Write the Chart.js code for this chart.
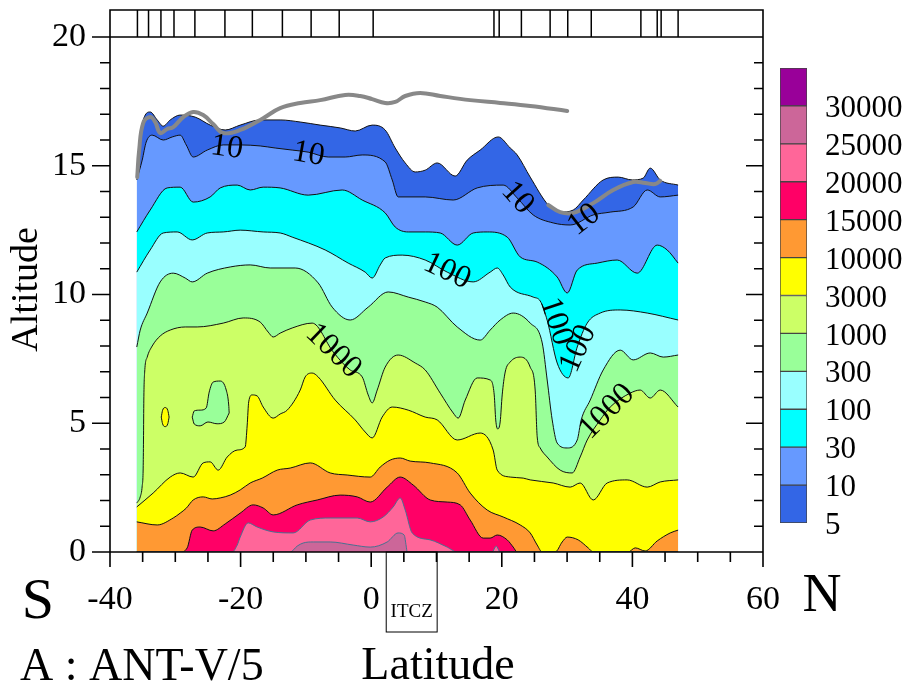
<!DOCTYPE html>
<html>
<head>
<meta charset="utf-8">
<title>ANT-V/5</title>
<script src="https://cdn.jsdelivr.net/npm/chart.js@4.4.1/dist/chart.umd.min.js"></script>
<style>
  html, body { margin: 0; padding: 0; background: #fff; }
  #wrap { position: relative; width: 914px; height: 690px; }
  #main { position: absolute; left: 0; top: 0; }
  #scale { position: absolute; left: 780px; top: 50px; }
</style>
</head>
<body>
<div id="wrap">
  <canvas id="main" width="914" height="690"></canvas>
  <canvas id="scale" width="134" height="500"></canvas>
</div>
<script>
// contour lines as [latitude, altitude km]
const cont5 = [[-35.9,14.56],[-35.53,15.61],[-35.07,16.58],[-34.61,16.97],[-33.85,17.09],[-32.77,16.78],[-31.85,16.54],[-30.78,16.78],[-29.25,16.97],[-26.95,16.89],[-24.66,16.58],[-22.36,16.39],[-20.06,16.58],[-17.0,16.78],[-13.94,16.78],[-10.87,16.7],[-7.81,16.58],[-4.75,16.47],[-2.45,16.35],[0.15,16.58],[2.14,16.39],[3.68,15.69],[5.21,15.11],[6.74,14.76],[8.27,14.83],[10.11,15.11],[12.86,14.6],[14.7,15.22],[16.69,15.61],[19.45,16.12],[21.29,15.69],[22.36,15.42],[24.35,14.56],[27.11,13.48],[28.94,13.2],[30.93,13.28],[32.47,13.67],[35.53,14.45],[37.83,14.56],[39.97,14.45],[41.65,14.52],[42.73,14.91],[44.26,14.45],[47.0,14.25]];
const cont10 = [[-35.9,14.45],[-35.07,15.22],[-34.46,15.92],[-33.54,16.19],[-31.85,16.0],[-30.47,16.12],[-29.25,16.19],[-28.33,15.81],[-27.26,15.34],[-25.11,15.61],[-22.66,15.81],[-20.06,15.81],[-17.0,15.77],[-14.7,15.69],[-12.1,15.61],[-9.65,15.53],[-6.58,15.34],[-3.98,15.34],[-1.38,15.42],[2.14,15.15],[3.22,14.45],[4.13,13.79],[8.27,13.79],[12.56,13.67],[16.23,14.14],[20.21,14.25],[22.36,13.75],[24.81,13.09],[27.87,12.78],[30.47,12.7],[34.0,13.09],[36.6,13.2],[40.12,13.4],[42.27,14.06],[44.26,13.79],[47.0,13.86]];
const cont30 = [[-35.9,12.43],[-33.85,13.28],[-31.24,14.14],[-29.25,14.17],[-27.26,13.59],[-24.66,13.79],[-23.12,14.14],[-20.52,14.25],[-18.53,14.06],[-16.54,14.17],[-13.94,14.14],[-9.65,13.86],[-4.44,14.06],[-1.38,13.67],[2.14,13.17],[3.68,12.62],[5.67,12.43],[8.27,12.43],[10.57,12.39],[13.17,11.92],[15.62,12.39],[17.76,12.43],[20.83,12.23],[22.82,11.46],[25.42,11.26],[28.48,10.68],[30.02,10.06],[31.55,10.95],[34.61,11.22],[37.67,11.34],[40.74,10.83],[43.8,11.92],[45.33,11.73],[47.0,11.22]];
const cont100 = [[-35.9,10.87],[-33.85,11.73],[-31.85,12.39],[-29.71,12.43],[-27.41,12.12],[-25.11,12.39],[-22.66,12.43],[-20.06,12.5],[-16.54,12.43],[-13.94,12.39],[-12.1,12.23],[-7.04,11.73],[-3.52,11.22],[-0.92,10.87],[0.15,10.64],[1.38,11.15],[2.14,11.42],[4.75,11.53],[8.27,11.34],[11.64,10.87],[15.62,10.49],[18.22,10.87],[19.3,11.03],[20.21,10.76],[21.29,10.29],[24.81,9.9],[25.88,9.75],[26.95,9.0],[28.48,7.34],[30.17,6.76],[31.55,7.96],[33.08,8.89],[35.07,9.28],[38.13,9.4],[42.27,9.28],[47.0,9.01]];
const cont300 = [[-35.9,7.96],[-35.37,8.62],[-34.3,9.28],[-32.31,10.49],[-30.32,10.83],[-28.48,10.64],[-27.41,10.49],[-25.11,10.83],[-21.59,11.07],[-18.53,11.15],[-15.47,11.03],[-11.64,11.03],[-8.12,10.45],[-5.97,9.51],[-3.22,9.01],[-0.46,9.51],[2.6,10.1],[5.67,9.9],[8.27,9.71],[10.11,9.51],[13.17,8.74],[16.69,8.23],[18.22,8.62],[19.75,9.01],[21.75,9.28],[24.35,8.89],[26.19,8.12],[26.95,6.68],[27.72,5.13],[28.48,4.23],[30.02,4.04],[31.55,4.35],[32.16,5.13],[33.54,5.9],[35.53,7.07],[38.13,7.84],[40.12,7.46],[42.73,7.73],[44.72,7.57],[47.0,7.65]];
const cont1000 = [[-35.9,1.9],[-35.37,2.14],[-35.07,2.56],[-34.92,3.26],[-34.87,4.35],[-34.82,5.9],[-34.69,6.99],[-34.3,7.57],[-33.54,8.0],[-32.31,8.39],[-30.78,8.62],[-28.48,8.74],[-26.65,8.74],[-22.66,8.89],[-19.6,9.09],[-17.0,8.93],[-15.77,8.54],[-15.01,8.35],[-13.94,8.5],[-12.1,8.7],[-9.04,8.89],[-5.82,7.77],[-3.22,7.07],[-1.38,6.8],[-0.46,6.1],[0.15,5.79],[0.92,6.29],[2.14,7.18],[4.13,7.65],[6.74,7.34],[8.27,7.07],[10.57,6.17],[12.56,5.4],[13.32,5.2],[14.4,5.9],[16.23,6.76],[18.22,6.68],[18.84,6.1],[19.07,5.13],[19.37,4.78],[19.75,5.05],[20.06,6.1],[20.52,6.99],[21.29,7.38],[22.82,7.57],[24.35,7.18],[25.11,6.29],[25.42,4.47],[25.88,4.04],[26.95,3.69],[28.94,3.18],[30.78,3.07],[32.0,3.69],[33.08,4.35],[35.07,5.13],[36.6,5.63],[39.66,6.17],[41.19,6.29],[42.73,5.98],[44.26,6.29],[47.0,5.63]];
const cont3000 = [[-35.9,1.75],[-33.39,2.29],[-30.78,2.91],[-29.25,3.07],[-27.26,2.91],[-25.73,3.46],[-24.66,3.5],[-23.43,3.18],[-22.05,3.69],[-20.52,3.96],[-19.3,4.08],[-18.99,4.93],[-18.76,5.83],[-18.22,6.1],[-17.46,6.06],[-16.54,5.63],[-15.01,5.2],[-13.94,5.36],[-12.86,5.51],[-10.87,6.29],[-10.11,6.8],[-9.04,6.95],[-8.12,6.8],[-5.51,5.9],[-2.45,5.13],[-0.92,4.66],[0.15,4.43],[1.68,5.24],[3.22,5.63],[5.67,5.51],[8.27,5.24],[10.11,5.13],[13.17,4.35],[16.69,4.62],[18.68,3.96],[19.3,3.18],[21.29,2.91],[23.28,2.87],[24.35,2.8],[27.87,2.68],[30.47,2.52],[32.0,2.68],[34.0,2.02],[36.14,2.68],[39.2,2.8],[42.27,2.52],[44.26,2.72],[47.0,2.8]];
const cont10000 = [[-35.9,1.17],[-32.77,1.05],[-30.32,1.32],[-29.25,1.51],[-28.33,1.7],[-27.26,2.02],[-25.73,2.14],[-24.35,2.06],[-23.12,2.1],[-21.59,2.21],[-20.06,2.41],[-18.53,2.68],[-16.69,2.87],[-14.39,3.18],[-12.4,3.26],[-9.34,3.46],[-6.28,3.07],[-3.68,2.99],[-0.15,2.91],[1.38,3.3],[2.91,3.57],[4.44,3.65],[5.97,3.53],[9.04,3.46],[13.17,3.07],[15.16,2.29],[17.76,1.63],[20.21,1.36],[22.82,1.05],[24.35,0.74],[25.42,0.27],[26.19,0],[28.18,0],[29.25,0.39],[30.02,0.58],[31.7,0.47],[33.23,0.16],[34.0,0],[39.36,0],[40.43,0.16],[41.96,0.04],[43.8,0.43],[45.79,0.74],[47.0,0.85]];
const cont15000 = [[-35.9,0],[-29.25,0],[-28.18,0.16],[-27.41,0.85],[-26.19,0.97],[-24.2,0.82],[-22.36,1.09],[-20.06,1.51],[-18.07,1.83],[-16.54,1.71],[-15.01,1.44],[-11.33,1.83],[-8.27,2.02],[-4.75,2.21],[-2.14,2.14],[-0.15,1.94],[2.45,2.52],[4.44,2.91],[6.43,2.6],[9.04,2.02],[11.64,1.94],[13.63,1.83],[15.16,1.24],[17.15,0.54],[18.22,0.54],[19.3,0.66],[20.83,0.47],[21.75,0.19],[22.36,0],[47.0,0]];
const cont20000 = [[-35.9,0],[-21.29,0],[-20.52,0.27],[-20.06,0.58],[-18.84,1.13],[-17.46,0.97],[-15.01,0.78],[-11.94,0.74],[-9.34,1.24],[-6.28,1.32],[-2.14,1.32],[-0.15,1.17],[1.84,1.36],[3.37,1.75],[4.44,2.1],[5.21,1.63],[6.28,0.74],[9.04,0.47],[11.64,0.19],[13.17,0],[18.53,0],[19.14,0.23],[19.75,0],[47.0,0]];
const cont25000 = [[-35.9,0],[-12.4,0],[-11.33,0.23],[-10.41,0.35],[-8.88,0.39],[-6.28,0.39],[-2.76,0.27],[-0.15,0.19],[2.45,0.39],[4.13,0.74],[5.05,0.66],[5.36,0.23],[5.51,0],[47.0,0]];

// closed pockets: upper and lower edge
const pocketYellowTop = [[-32.15,5.24],[-31.95,5.5],[-31.55,5.61],[-31.15,5.5],[-30.95,5.24]];
const pocketYellowBottom = [[-32.15,5.24],[-31.95,4.98],[-31.55,4.87],[-31.15,4.98],[-30.95,5.24]];
const pocketGreenTop = [[-27.41,5.24],[-27.1,5.48],[-26.19,5.51],[-25.27,5.59],[-24.81,6.21],[-24.2,6.6],[-23.12,6.64],[-22.2,6.29],[-21.82,5.71],[-21.75,5.4]];
const pocketGreenBottom = [[-27.41,5.24],[-27.1,4.97],[-26.19,4.9],[-25.0,5.05],[-23.6,4.98],[-22.5,5.05],[-21.75,5.4]];

// tropopause
const tropoSouth = [[-35.83,14.56],[-35.53,15.61],[-34.92,16.66],[-33.85,16.89],[-33.08,16.7],[-32.31,16.27],[-31.24,16.43],[-30.32,16.5],[-28.79,16.89],[-27.26,17.09],[-25.73,16.97],[-24.2,16.62],[-22.66,16.27],[-20.06,16.39],[-16.54,16.85],[-13.94,17.24],[-10.87,17.44],[-7.81,17.55],[-3.98,17.75],[-1.68,17.71],[0.15,17.59],[2.14,17.44],[3.68,17.48],[5.21,17.71],[7.5,17.83],[10.57,17.71],[15.16,17.55],[19.75,17.44],[24.35,17.32],[30.02,17.13]];
const tropoNorth = [[27.11,13.48],[28.94,13.2],[30.93,13.17],[34.0,13.55],[37.06,14.06],[40.12,14.37],[41.96,14.33],[43.49,14.29],[44.26,14.41]];

// sounding latitudes
const stationLats = [-35.8,-34.1,-32.2,-30.2,-27.0,-22.4,-18.2,-13.6,-9.2,-4.9,0.3,18.8,19.6,23.0,27.4,30.1,33.7,41.3,43.8,44.4,47.0];

const altTicks = [0, 5, 10, 15, 20];
const levelLabels = ['5','10','30','100','300','1000','3000','10000','15000','20000','25000','30000'];
const levelColors = ['#3366e6','#6699ff','#00ffff','#99ffff','#99ff99','#ccff66','#ffff00','#ff9933','#ff0066','#ff6699','#cc6699','#990099'];

// [text, lat, alt, rotation deg]
const contourLabels = [
  ['10', -22.1, 15.7, 8], ['10', -9.6, 15.45, 10], ['10', 22.4, 13.75, 48], ['10', 32.6, 12.9, -38],
  ['100', 11.6, 10.9, 25], ['100', 28.3, 8.95, 72], ['100', 31.7, 7.9, -66],
  ['1000', -5.8, 7.8, 44], ['1000', 36.1, 5.45, -45]
];

const SERIF = "'Liberation Serif', 'Times New Roman', serif";
const toXY = pts => pts.map(([x, y]) => ({x, y}));

function band(pts, levelIndex, lineColor) {
  return {
    data: toXY(pts),
    backgroundColor: levelColors[levelIndex],
    borderColor: lineColor || '#111',
    borderWidth: 1,
    fill: 'origin',
    pointRadius: 0,
    cubicInterpolationMode: 'monotone'
  };
}

function edge(pts, fill, color) {
  return {
    data: toXY(pts),
    backgroundColor: color || 'transparent',
    borderColor: '#111',
    borderWidth: 1,
    fill: fill,
    pointRadius: 0,
    cubicInterpolationMode: 'monotone'
  };
}

function tropo(pts) {
  return {
    data: toXY(pts),
    borderColor: '#888',
    borderWidth: 4,
    borderCapStyle: 'round',
    fill: false,
    pointRadius: 0,
    tension: 0.4
  };
}

const labelPlugin = {
  id: 'contourLabels',
  afterDatasetsDraw(chart) {
    const {ctx, scales: {x, y}} = chart;
    ctx.save();
    ctx.fillStyle = '#000';
    ctx.font = '32px ' + SERIF;
    ctx.textAlign = 'center';
    ctx.textBaseline = 'middle';
    contourLabels.forEach(([t, lat, alt, rot]) => {
      ctx.save();
      ctx.translate(x.getPixelForValue(lat), y.getPixelForValue(alt));
      ctx.rotate(rot * Math.PI / 180);
      ctx.fillText(t, 0, 0);
      ctx.restore();
    });
    ctx.restore();
  }
};

const framePlugin = {
  id: 'frame',
  afterDraw(chart) {
    const {ctx, chartArea: a, scales: {x, y}} = chart;
    ctx.save();
    ctx.strokeStyle = '#000';
    ctx.lineWidth = 1.6;
    ctx.beginPath();
    ctx.rect(a.left, a.top, a.right - a.left, a.bottom - a.top);
    const y20 = y.getPixelForValue(20);
    ctx.moveTo(a.left - 18, y20); ctx.lineTo(a.right, y20);
    ctx.moveTo(a.left - 18, a.bottom); ctx.lineTo(a.left, a.bottom);
    for (let v = 1; v < 20; v++) {
      const py = y.getPixelForValue(v);
      const major = v % 5 === 0;
      ctx.moveTo(a.left - (major ? 18 : 10), py); ctx.lineTo(a.left, py);
      ctx.moveTo(a.right - (major ? 17 : 9), py); ctx.lineTo(a.right, py);
    }
    for (let v = -40; v <= 60; v += 5) {
      const px = x.getPixelForValue(v);
      ctx.moveTo(px, a.bottom); ctx.lineTo(px, a.bottom + (v % 20 === 0 ? 15 : 10));
    }
    ctx.stroke();

    // ITCZ box
    const l = x.getPixelForValue(2.3), r = x.getPixelForValue(10.1);
    ctx.lineWidth = 1;
    ctx.strokeRect(l, a.bottom, r - l, 80);

    ctx.fillStyle = '#000';
    ctx.textAlign = 'center';
    ctx.textBaseline = 'middle';
    ctx.font = '19px ' + SERIF;
    ctx.fillText('ITCZ', (l + r) / 2, 612);
    ctx.font = '58px ' + SERIF;
    ctx.fillText('S', 38, 603);
    ctx.font = '54px ' + SERIF;
    ctx.fillText('N', 822, 597);
    ctx.font = '46px ' + SERIF;
    ctx.fillText('Latitude', 438, 667);
    ctx.textAlign = 'left';
    ctx.font = '46px ' + SERIF;
    ctx.fillText('A : ANT-V/5', 20, 668);
    ctx.save();
    ctx.translate(27, y.getPixelForValue(10.2));
    ctx.rotate(-Math.PI / 2);
    ctx.textAlign = 'center';
    ctx.font = '38px ' + SERIF;
    ctx.fillText('Altitude', 0, 0);
    ctx.restore();
    ctx.restore();
  }
};

new Chart(document.getElementById('main'), {
  type: 'line',
  data: {
    datasets: [
      tropo(tropoSouth),
      tropo(tropoNorth),
      {
        data: stationLats.map(v => ({x: v, y: 20.525})),
        showLine: false,
        pointStyle: 'line',
        pointRotation: 90,
        pointRadius: 13.5,
        pointBorderColor: '#000',
        pointBorderWidth: 1.5,
        borderColor: '#000'
      },
      edge(pocketYellowTop, false),
      edge(pocketYellowBottom, '-1', levelColors[6]),
      edge(pocketGreenTop, false),
      edge(pocketGreenBottom, '-1', levelColors[4]),
      band(cont25000, 10, '#4a7090'),
      band(cont20000, 9, '#4a7090'),
      band(cont15000, 8),
      band(cont10000, 7),
      band(cont3000, 6),
      band(cont1000, 5),
      band(cont300, 4),
      band(cont100, 3),
      band(cont30, 2),
      band(cont10, 1),
      band(cont5, 0)
    ]
  },
  options: {
    responsive: false,
    animation: false,
    devicePixelRatio: 1,
    layout: {autoPadding: false, padding: {left: 0, right: 151, top: 10, bottom: 0}},
    plugins: {legend: {display: false}, tooltip: {enabled: false}},
    scales: {
      x: {
        type: 'linear', min: -40, max: 60,
        grid: {display: false, drawTicks: false},
        border: {display: false},
        ticks: {stepSize: 20, padding: 28, maxRotation: 0, color: '#000', font: {family: SERIF, size: 34}},
        afterFit: s => { s.height = 138; s.paddingLeft = 0; s.paddingRight = 0; }
      },
      y: {
        type: 'linear', min: 0, max: 21.05,
        grid: {display: false, drawTicks: false},
        border: {display: false},
        afterBuildTicks: s => { s.ticks = altTicks.map(v => ({value: v})); },
        ticks: {padding: 24, color: '#000', font: {family: SERIF, size: 34}},
        afterFit: s => { s.width = 110; s.paddingTop = 0; s.paddingBottom = 0; }
      }
    }
  },
  plugins: [labelPlugin, framePlugin]
});

// colour key
new Chart(document.getElementById('scale'), {
  type: 'bar',
  data: {
    labels: [''],
    datasets: levelColors.map(c => ({
      data: [1],
      backgroundColor: c,
      borderColor: '#444',
      borderWidth: 1,
      borderSkipped: false,
      barPercentage: 1,
      categoryPercentage: 1
    }))
  },
  options: {
    responsive: false,
    animation: false,
    devicePixelRatio: 1,
    layout: {autoPadding: false, padding: {top: 18, bottom: 27, left: 0, right: 0}},
    plugins: {legend: {display: false}, tooltip: {enabled: false}},
    scales: {
      x: {display: false, stacked: true},
      y: {
        stacked: true, position: 'right', min: 0, max: 12,
        grid: {display: false, drawTicks: false},
        border: {display: false},
        ticks: {stepSize: 1, autoSkip: false, padding: 18, labelOffset: 3, color: '#000', font: {family: SERIF, size: 31},
          callback: v => levelLabels[Math.round(v)] ?? ''},
        afterFit: s => { s.width = 107; s.paddingTop = 0; s.paddingBottom = 0; }
      }
    }
  }
});
</script>
</body>
</html>
